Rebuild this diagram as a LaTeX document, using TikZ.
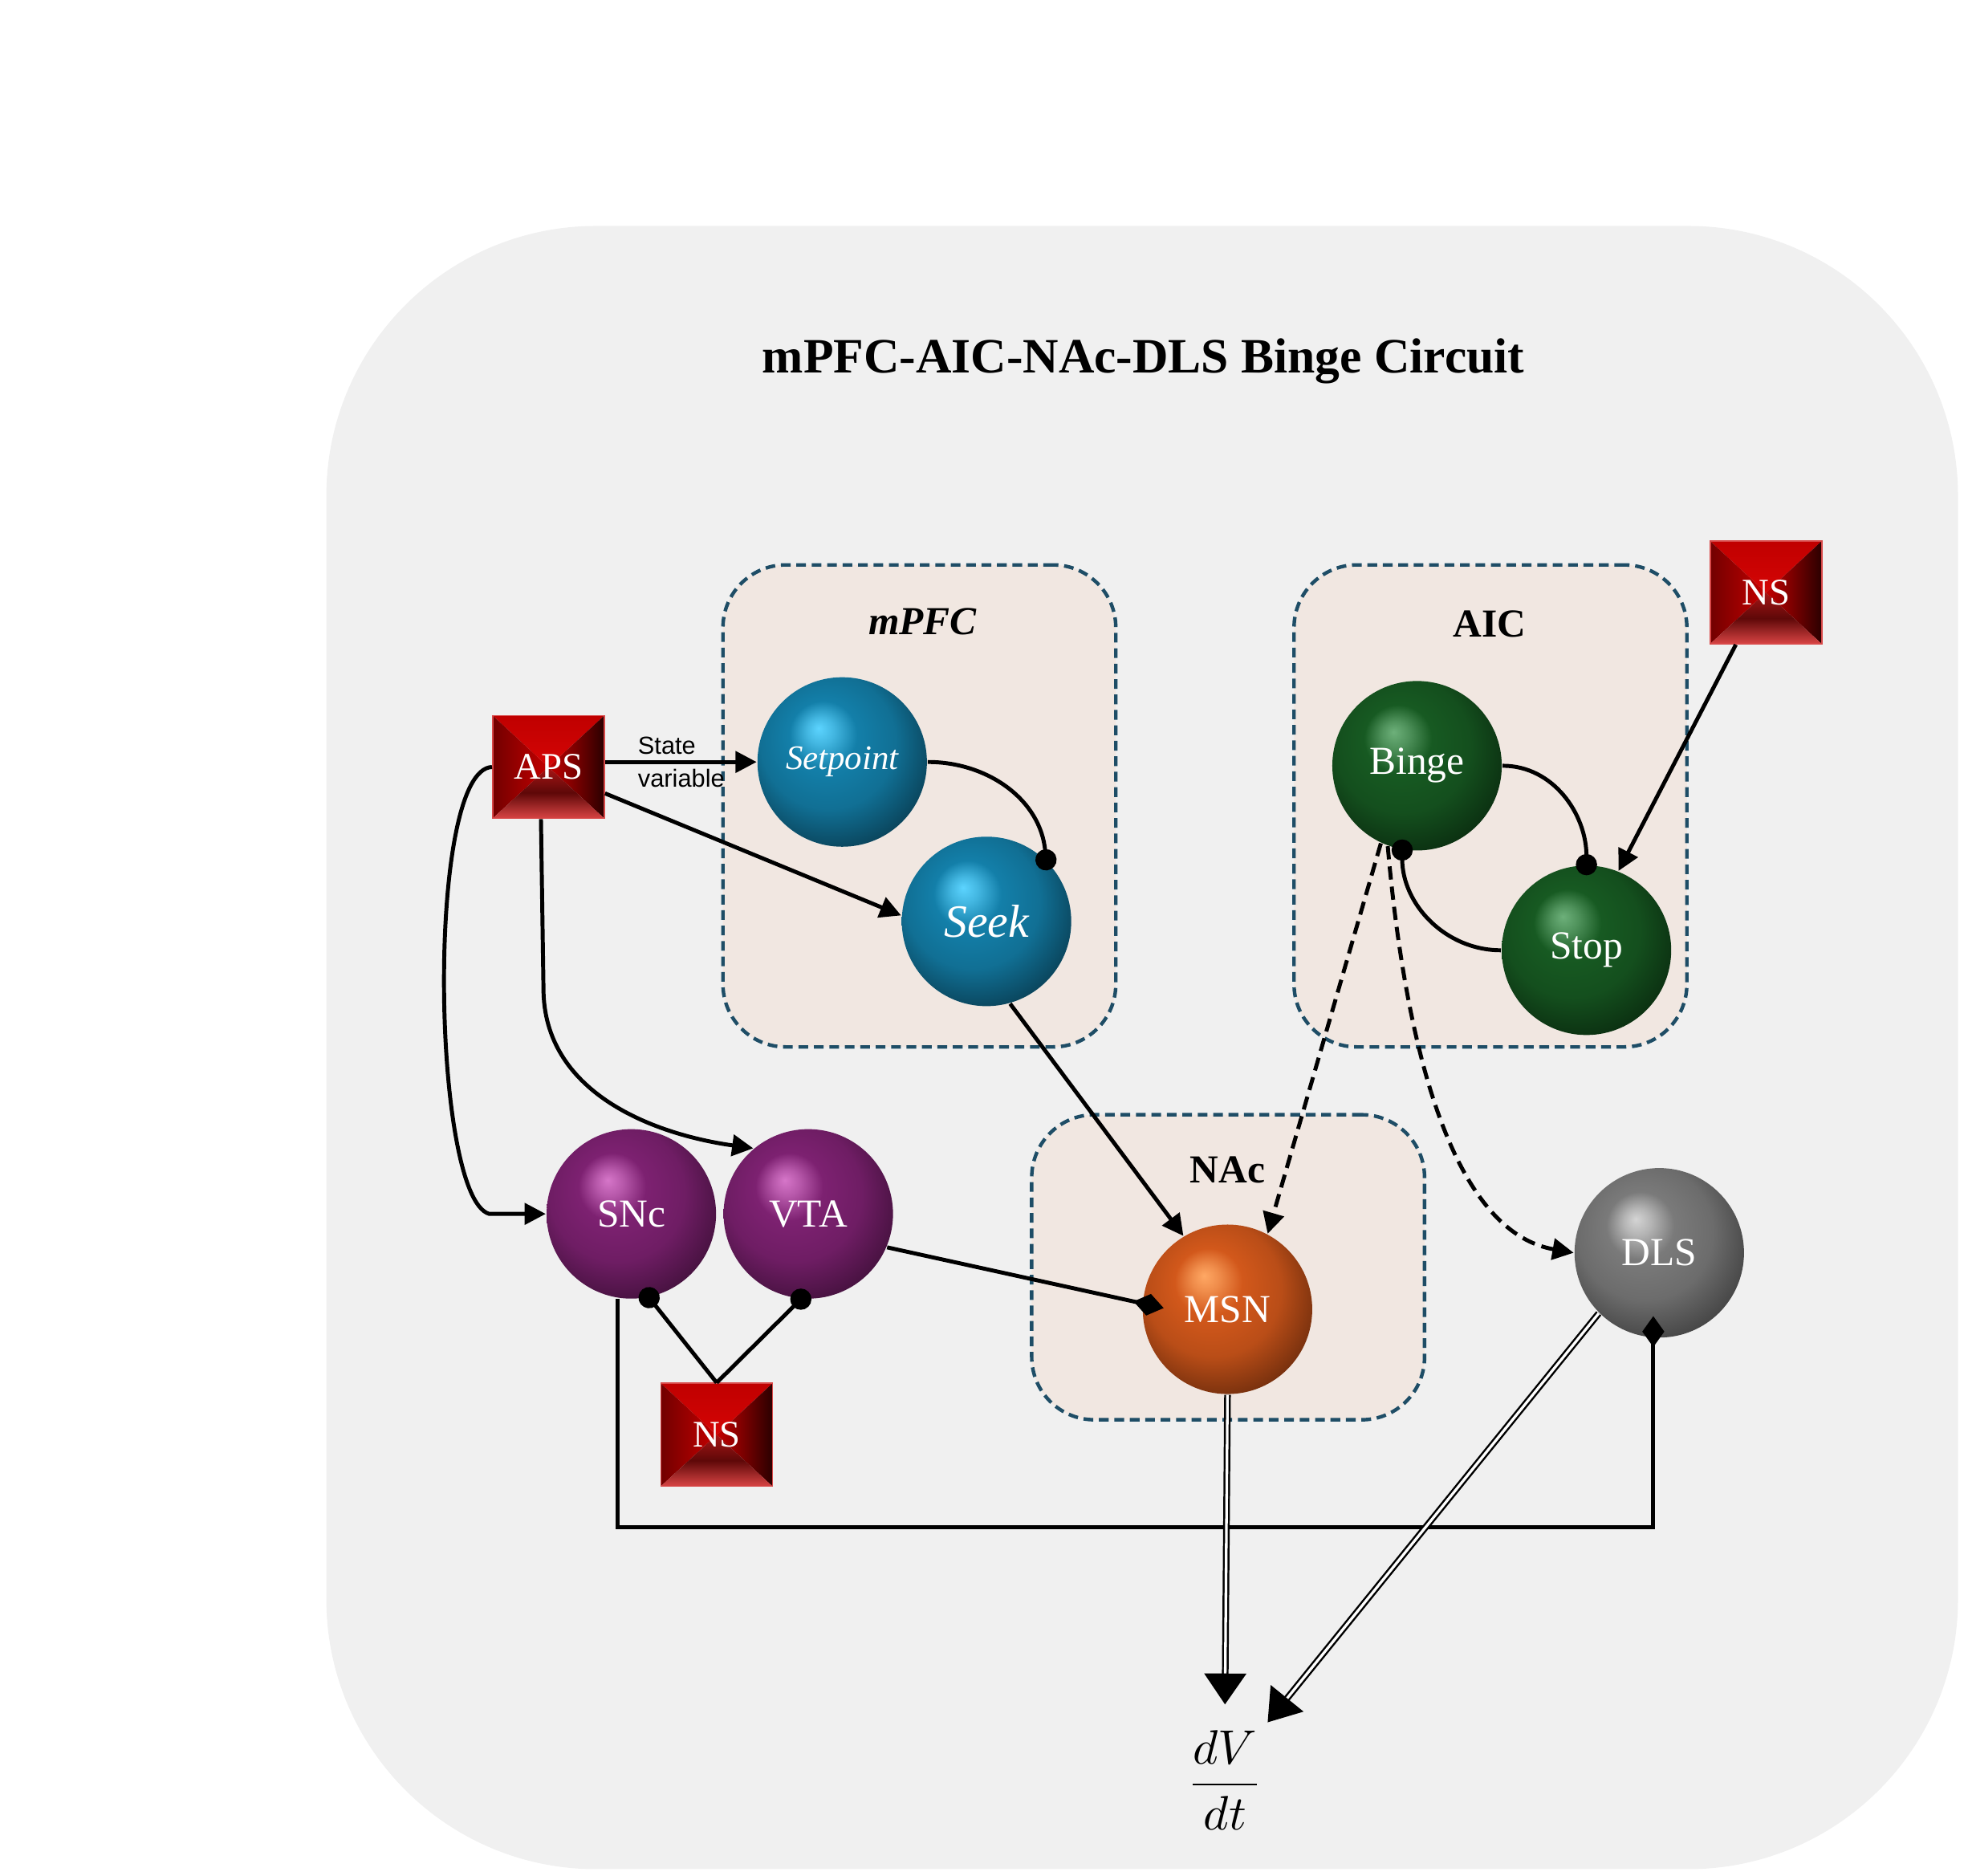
\documentclass[tikz,border=0pt]{standalone}
\usepackage{fontspec}
\setmainfont{Liberation Serif}
\setsansfont{Liberation Sans}
\usetikzlibrary{arrows.meta, calc}

\definecolor{bgcol}{HTML}{F0F0F0}
\definecolor{boxfill}{HTML}{F1E7E1}
\definecolor{boxedge}{HTML}{1E4D66}
\definecolor{sqrim}{HTML}{D84848}
\definecolor{sqA}{HTML}{C00000}
\definecolor{sqB}{HTML}{EA0A0A}
\definecolor{sqC}{HTML}{720000}
\definecolor{sqD}{HTML}{C40000}
\definecolor{sqE}{HTML}{2A0000}
\definecolor{sqF}{HTML}{A81616}
\definecolor{sqG}{HTML}{D84444}
\definecolor{sqH}{HTML}{5E0808}
\colorlet{sphhi}{white}
\colorlet{sphmid}{gray}
\colorlet{sphlo}{black}
\pgfdeclareradialshading[sphhi,sphmid,sphlo]{sphere}{\pgfqpoint{-7bp}{10bp}}{%
  color(0bp)=(sphhi); color(4bp)=(sphhi!65!sphmid); color(10bp)=(sphmid);
  color(20bp)=(sphmid!85!sphlo); color(30bp)=(sphmid!45!sphlo); color(38bp)=(sphlo);
  color(50bp)=(sphlo)}

\newcommand\sqfaces{%
  \shade[top color=sqA, bottom color=sqB]
    (path picture bounding box.north west) -- (path picture bounding box.north east)
    -- (path picture bounding box.center) -- cycle;
  \shade[left color=sqC, right color=sqD]
    (path picture bounding box.north west) -- (path picture bounding box.south west)
    -- (path picture bounding box.center) -- cycle;
  \shade[left color=sqD, right color=sqE]
    (path picture bounding box.north east) -- (path picture bounding box.south east)
    -- (path picture bounding box.center) -- cycle;
  \shade[top color=sqF, bottom color=sqG, middle color=sqH]
    (path picture bounding box.south west) -- (path picture bounding box.south east)
    -- (path picture bounding box.center) -- cycle;
}

\tikzset{ s/.style = { circle
                     , shade
                     , shading      = sphere
                     , inner sep    = 0pt
                     , minimum size = 13.5mm
                     , text         = white
                     , font         = \fontsize{9}{10}\selectfont
                     },
          blu/.style = { s, /utils/exec = {\definecolor{sphhi}{HTML}{5CD4FF}%
                         \definecolor{sphmid}{HTML}{137FA9}\definecolor{sphlo}{HTML}{03161E}} },
          grn/.style = { s, /utils/exec = {\definecolor{sphhi}{HTML}{6DB07A}%
                         \definecolor{sphmid}{HTML}{175A22}\definecolor{sphlo}{HTML}{020F04}} },
          pur/.style = { s, /utils/exec = {\definecolor{sphhi}{HTML}{D676C9}%
                         \definecolor{sphmid}{HTML}{7D2171}\definecolor{sphlo}{HTML}{1C0619}} },
          org/.style = { s, /utils/exec = {\definecolor{sphhi}{HTML}{FFA864}%
                         \definecolor{sphmid}{HTML}{D2581B}\definecolor{sphlo}{HTML}{2E1003}} },
          gry/.style = { s, /utils/exec = {\definecolor{sphhi}{HTML}{D4D4D4}%
                         \definecolor{sphmid}{HTML}{7A7A7A}\definecolor{sphlo}{HTML}{1C1C1C}} },
          sq/.style = { rectangle
                      , draw           = sqrim
                      , line width     = 0.3pt
                      , minimum width  = 8.9mm
                      , minimum height = 8.2mm
                      , inner sep      = 0pt
                      , text           = white
                      , font           = \fontsize{8.5}{10}\selectfont
                      , path picture   = {\sqfaces}
                      },
          reg/.style = { rectangle
                       , draw            = boxedge
                       , fill            = boxfill
                       , line width      = 0.8pt
                       , dash pattern    = on 2.2pt off 1.3pt
                       , rounded corners = 5mm
                       },
          rl/.style = { font = \bfseries\fontsize{9}{11}\selectfont },
          hd/.style = { font = \bfseries\fontsize{11.2}{14}\selectfont },
          lab/.style = { font = \sffamily\fontsize{5.6}{6.5}\selectfont, inner sep = 1.2pt },
          ln/.style = { line width = 0.9pt },
          exc/.style = { ln, -{Triangle[length=4.8pt, width=4.8pt]} },
          inh/.style = { ln, -{Circle[length=4.8pt]}, shorten >= -2.4pt },
          mod/.style = { ln, -{Diamond[length=7pt, width=5pt]}, shorten >= -5pt },
          dsh/.style = { exc, dash pattern = on 3pt off 1.6pt },
          flow/.style = { double, double distance = 0.6pt, line width = 0.45pt
                        , -{Triangle[length=7pt, width=9.5pt]} }
        }

\begin{document}
\begin{tikzpicture}
  \useasboundingbox (0,0) rectangle (15.68,14.94);
  \fill[bgcol, rounded corners=21.5mm] (2.60,0.05) rectangle (15.60,13.14);
  \node[hd] (title) at (9.11,12.06) {mPFC-AIC-NAc-DLS Binge Circuit};
  \foreach \n/\x/\y/\w/\h in {mpfc/7.325/8.52/3.13/3.84, aic/11.875/8.52/3.13/3.84,
                              nac/9.785/4.845/3.13/2.43} {
    \node[reg, minimum width=\w cm, minimum height=\h cm] (\n) at (\x,\y) {};
  }
  \node[rl] (mpfcl) at (7.35,9.99) {\itshape mPFC};
  \node[rl] (aicl) at (11.87,9.97) {AIC};
  \node[rl] (nacl) at (9.78,5.62) {NAc};

  \node[blu] (setpoint) at (6.71,8.87) {\fontsize{7.8}{9}\selectfont\itshape Setpoint};
  \node[blu] (seek) at (7.86,7.60) {\fontsize{10.5}{12}\selectfont\itshape Seek};
  \foreach \n/\x/\y in {Binge/11.29/8.84, Stop/12.64/7.37} {
    \node[grn] (\n) at (\x,\y) {\n};
  }
  \foreach \n/\x in {SNc/5.03, VTA/6.44} {
    \node[pur] (\n) at (\x,5.27) {\n};
  }
  \node[org] (MSN) at (9.78,4.51) {MSN};
  \node[gry] (DLS) at (13.22,4.96) {DLS};
  \node[sq] (APS) at (4.37,8.83) {APS};
  \node[sq] (ns1) at (14.07,10.22) {NS};
  \node[sq] (ns2) at (5.71,3.51) {NS};
  \node[inner sep=2mm, font=\fontsize{10.5}{13}\selectfont] (dvdt) at (9.76,0.76)
    {$\displaystyle\frac{dV}{dt}$};

  \draw[exc] (APS.east |- setpoint) -- (setpoint)
    node[lab, anchor=south west, pos=0.17] {State}
    node[lab, anchor=north west, pos=0.17] {variable};
  \draw[exc] ([yshift=-2.1mm]APS.east) -- (seek.176);
  \draw[exc] (APS.west) .. controls +(-0.53,-0.02) and +(-0.46,0.13)
    .. ([xshift=-4.5mm]SNc.west) -- (SNc.west);
  \draw[exc] ([xshift=-0.6mm]APS.south) -- ++(0.02,-1.35) to[out=-90, in=172] (VTA.130);
  \draw[inh] (setpoint.east) to[out=0, in=95] (seek.46);
  \draw[inh] (Binge.east) to[out=0, in=90] (Stop.north);
  \draw[inh] (Stop.west) to[out=180, in=-90] (Binge.260);
  \draw[exc] ([xshift=-2.4mm]ns1.south) -- (Stop.68);
  \draw[exc] (seek.286) -- (MSN.121);
  \draw[dsh] (Binge.245) -- (MSN.62);
  \draw[dsh] (Binge.250) to[out=-85, in=170, looseness=0.8] (DLS.west);
  \draw[mod] (VTA.-23) -- (MSN.176);
  \draw[inh] (ns2.north) -- (SNc.282);
  \draw[inh] (ns2.north) -- (VTA.265);
  \draw[mod] (SNc.261) -- ++(0,-1.82) -| (DLS.266);
  \draw[flow] (MSN.south) -- (dvdt.north);
  \draw[flow] (DLS.225) -- ($(dvdt)+(0.34,0.46)$);
\end{tikzpicture}
\end{document}
